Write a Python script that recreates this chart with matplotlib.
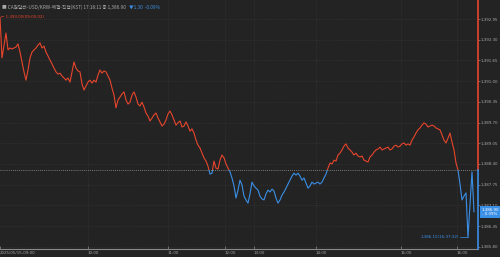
import numpy as np
import matplotlib
matplotlib.use("Agg")
from matplotlib import pyplot as plt
from matplotlib import font_manager
from matplotlib.patches import Rectangle
from matplotlib.transforms import blended_transform_factory

# USD/KRW tick prices, one sample every tick step
prices = [
    1393.00, 1391.73, 1392.13, 1392.51, 1391.98, 1392.04, 1392.01, 1392.04, 1392.07, 1392.17,
    1391.91, 1391.60, 1391.29, 1391.03, 1391.35, 1391.73, 1391.91, 1391.98, 1392.04, 1392.13,
    1392.20, 1392.04, 1392.10, 1391.91, 1391.79, 1391.66, 1391.54, 1391.41, 1391.29, 1391.22,
    1391.25, 1391.16, 1391.10, 1391.03, 1391.10, 1390.97, 1391.29, 1391.60, 1391.41, 1391.32,
    1391.29, 1390.91, 1390.72, 1390.85, 1390.97, 1391.03, 1390.94, 1391.03, 1390.97, 1391.19,
    1391.35, 1391.25, 1391.32, 1391.29, 1391.16, 1391.03, 1390.78, 1390.56, 1390.16, 1390.41,
    1390.50, 1390.60, 1390.66, 1390.41, 1390.28, 1390.34, 1390.56, 1390.66, 1390.50, 1390.28,
    1390.22, 1390.34, 1390.19, 1390.00, 1389.90, 1389.75, 1389.84, 1389.94, 1390.00, 1389.84,
    1389.72, 1389.59, 1389.65, 1389.78, 1389.97, 1390.06, 1389.94, 1389.78, 1389.62, 1389.69,
    1389.75, 1389.56, 1389.59, 1389.72, 1389.59, 1389.43, 1389.50, 1389.37, 1389.15, 1388.99,
    1388.90, 1388.74, 1388.59, 1388.49, 1388.33, 1388.08, 1388.11, 1388.49, 1388.27, 1388.24,
    1388.52, 1388.68, 1388.59, 1388.40, 1388.27, 1388.15, 1387.96, 1387.71, 1387.33, 1387.58,
    1387.89, 1387.74, 1387.39, 1387.27, 1387.17, 1387.46, 1387.83, 1387.71, 1387.64, 1387.58,
    1387.39, 1387.30, 1387.27, 1387.46, 1387.58, 1387.52, 1387.61, 1387.55, 1387.33, 1387.17,
    1387.27, 1387.42, 1387.52, 1387.64, 1387.77, 1387.89, 1388.02, 1388.11, 1388.05, 1388.11,
    1388.02, 1387.89, 1387.96, 1387.80, 1387.64, 1387.71, 1387.83, 1387.77, 1387.80, 1387.83,
    1387.77, 1387.83, 1387.96, 1388.08, 1388.27, 1388.43, 1388.40, 1388.52, 1388.49, 1388.68,
    1388.74, 1388.84, 1388.96, 1389.03, 1388.90, 1388.84, 1388.77, 1388.68, 1388.74, 1388.65,
    1388.62, 1388.65, 1388.52, 1388.49, 1388.46, 1388.62, 1388.68, 1388.77, 1388.84, 1388.87,
    1388.93, 1388.84, 1388.87, 1388.90, 1388.93, 1388.84, 1388.87, 1388.96, 1388.99, 1388.93,
    1388.96, 1389.03, 1389.06, 1388.99, 1389.03, 1388.99, 1389.15, 1389.25, 1389.37, 1389.47,
    1389.53, 1389.62, 1389.69, 1389.65, 1389.56, 1389.59, 1389.62, 1389.59, 1389.53, 1389.50,
    1389.47, 1389.31, 1389.15, 1389.06, 1389.21, 1389.37, 1389.09, 1388.84, 1388.43, 1388.21,
    1387.77, 1387.27, 1387.39, 1387.49, 1386.10, 1387.11, 1388.15, 1386.90,
]
prev_close = 1388.20
last_price = 1386.90
min_price = 1386.10
min_idx = 234
max_price = 1393.00

hour_pos = [0, 44, 84, 112.5, 127, 158, 200.5, 228.5]
hour_labels = ["2025/05/15-09:00", "10:00", "11:00", "12:00", "13:00", "14:00", "15:00", "16:00"]
ytick_vals = [1385.80, 1386.45, 1387.10, 1387.75, 1388.40, 1389.05,
              1389.70, 1390.35, 1391.00, 1391.65, 1392.30, 1392.95]

bg = "#232323"
red = "#e8452c"
blue = "#3a8fe6"
grid_c = "#3c3c3c"
txt_c = "#a8a8a8"

# a narrow face for the small numbers if one is there
names = {f.name for f in font_manager.fontManager.ttflist}
narrow = ["Liberation Sans Narrow", "DejaVu Sans"] if "Liberation Sans Narrow" in names else ["DejaVu Sans"]
fs = 3.4 if "Liberation Sans Narrow" in names else 2.9
kr = ["Noto Sans CJK KR", "DejaVu Sans"]

fig = plt.figure(figsize=(5, 2.57), dpi=100, facecolor=bg)
ax = fig.add_axes([0, 8 / 257, 478 / 500, 249 / 257])
ax.set_facecolor(bg)

x = np.arange(len(prices))
xmax = 239
ylo, yhi = 1385.73, 1393.547
ax.set_xlim(0, xmax)
ax.set_ylim(ylo, yhi)

# price line: red above previous close, blue below
up, = ax.plot(x, prices, color=red, lw=0.8, zorder=3)
dn, = ax.plot(x, prices, color=blue, lw=0.8, zorder=3)
up.set_clip_path(Rectangle((0, prev_close), xmax, yhi - prev_close, transform=ax.transData))
dn.set_clip_path(Rectangle((0, ylo), xmax, prev_close - ylo, transform=ax.transData))

ax.axhline(prev_close, color="#9a9a9a", lw=0.6, ls=(0, (1, 1.5)), zorder=2)

# right border coloured by side of previous close
ax.plot([xmax, xmax], [prev_close, yhi], color=red, lw=1.2, clip_on=False, zorder=4)
ax.plot([xmax, xmax], [ylo, prev_close], color=blue, lw=1.2, clip_on=False, zorder=4)

# grid
for p in hour_pos[1:]:
    ax.axvline(p, color=grid_c, lw=0.5, ls=(0, (1, 2)), zorder=1)
for v in ytick_vals:
    ax.axhline(v, color=grid_c, lw=0.5, ls=(0, (1, 2)), zorder=1)

for s in ["top", "left", "right"]:
    ax.spines[s].set_visible(False)
ax.spines["bottom"].set_color("#8a8a8a")
ax.spines["bottom"].set_linewidth(0.8)

ax.yaxis.tick_right()
ax.set_yticks(ytick_vals)
ax.set_yticklabels([f"{v:,.2f}" for v in ytick_vals], fontsize=fs, color=txt_c, family=narrow)
ax.tick_params(axis="y", length=1.5, width=0.5, color="#888888", pad=0.6)

ax.set_xticks(hour_pos)
ax.set_xticklabels(hour_labels, fontsize=fs, color=txt_c, family=narrow)
for lab in ax.get_xticklabels():
    lab.set_ha("left")
ax.tick_params(axis="x", direction="in", length=2, width=0.5, color="#888888", pad=1.5)

# high / low annotations
ax.text(0.5, max_price, "\u2190 1,393.00(09:00:02)", color=red, fontsize=fs,
        family=narrow, va="center", ha="left")
ax.plot([min_idx - 4, min_idx], [min_price, min_price], color=blue, lw=0.5)
ax.text(min_idx - 4.5, min_price, "1,386.10(16:37:32)", color=blue, fontsize=fs,
        family=narrow, va="center", ha="right")

# last price tag on the axis
tr = blended_transform_factory(ax.transAxes, ax.transData)
ax.text(1.008, last_price, "1,386.90\n- 0.09%", transform=tr, color="white",
        fontsize=fs, family=narrow, va="center", ha="left", linespacing=1.05,
        bbox=dict(boxstyle="square,pad=0.45", fc=blue, ec="none"), clip_on=False, zorder=5)

# header, blue change placed right after the grey part
head = fig.text(0.004, 0.982, "\u25a0 CA원달러-USD/KRW-체결-직접(KST) 17:18:11 종 1,386.90",
                color=txt_c, fontsize=3.4, family=kr, va="top", ha="left")
fig.canvas.draw()
bb = head.get_window_extent().transformed(fig.transFigure.inverted())
fig.text(bb.x1 + 0.006, 0.982, "\u25bc1.30  -0.09%", color=blue, fontsize=3.4, family=kr,
         va="top", ha="left")

fig.savefig("out.png", dpi=100, facecolor=bg)
